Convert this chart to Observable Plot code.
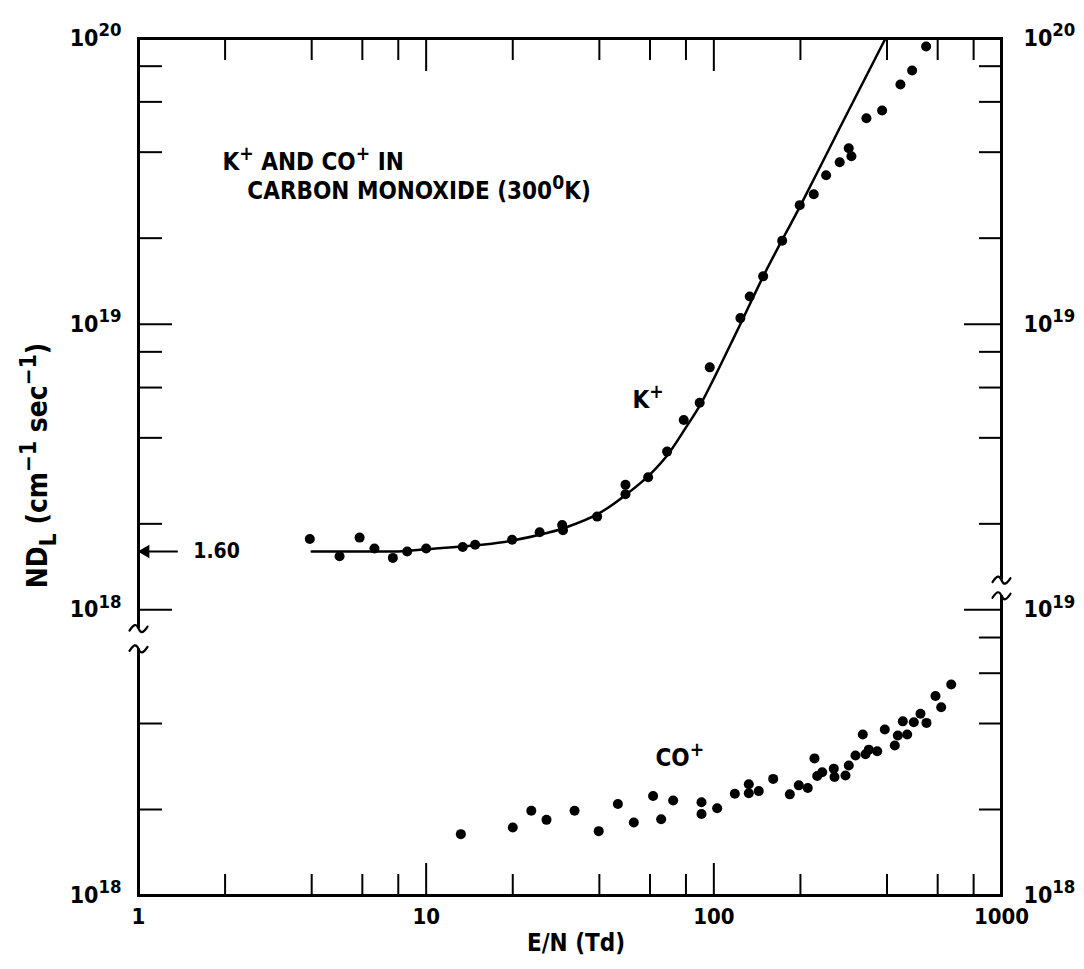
<!DOCTYPE html>
<html>
<head>
<meta charset="utf-8">
<script src="https://cdn.jsdelivr.net/npm/d3@7"></script>
<script src="https://cdn.jsdelivr.net/npm/@observablehq/plot@0.6"></script>
<style>
  body { margin: 0; background: #fff; }
  svg text { font-family: "Liberation Sans Narrow", "DejaVu Sans Condensed", "Roboto Condensed", sans-serif; font-weight: bold; }
</style>
</head>
<body>
<div id="chart"></div>
<script>
// ---- K+ data (upper scale, 10^18 .. 10^20) ----
const kE = [3.94, 5.00, 5.87, 6.61, 7.66, 8.59, 10.0, 13.4, 14.8, 19.9, 24.8, 29.7, 29.9, 39.3, 49.3, 49.3, 59.1, 68.8, 78.6, 89.3, 96.8, 123.7, 133.3, 148.4, 172.8, 198.9, 222.5, 245.7, 273.9, 294.4, 300.8, 339.2, 384.6, 445.3, 489, 547];
const kV = [1.77e18, 1.54e18, 1.79e18, 1.64e18, 1.52e18, 1.60e18, 1.64e18, 1.66e18, 1.69e18, 1.76e18, 1.87e18, 1.98e18, 1.90e18, 2.12e18, 2.74e18, 2.54e18, 2.91e18, 3.58e18, 4.62e18, 5.31e18, 7.06e18, 1.05e19, 1.25e19, 1.47e19, 1.96e19, 2.61e19, 2.85e19, 3.32e19, 3.69e19, 4.13e19, 3.87e19, 5.26e19, 5.60e19, 6.90e19, 7.73e19, 9.38e19];

// ---- K+ fitted curve ----
const curveE = [4, 8, 10, 20, 30, 40, 50, 60, 70, 80, 90, 100, 120, 150, 200, 275, 395];
const curveV = [1.60e18, 1.60e18, 1.63e18, 1.75e18, 1.93e18, 2.18e18, 2.55e18, 2.98e18, 3.55e18, 4.35e18, 5.25e18, 6.45e18, 9.40e18, 1.50e19, 2.60e19, 4.90e19, 1.0e20];

// ---- CO+ data (lower scale, 10^18 .. 10^19) ----
const coE = [13.2, 20.0, 23.2, 26.2, 32.8, 39.8, 46.4, 52.7, 61.5, 65.6, 72.2, 90.6, 90.6, 102.7, 118.3, 132.3, 132.3, 143.3, 160.8, 183.7, 197.4, 212.1, 223.8, 228.7, 238.1, 261.2, 262.7, 286.8, 294.5, 310.8, 329.5, 336.7, 345.7, 369.8, 392.9, 425.7, 436.1, 470.1, 453.9, 495.6, 522.8, 548.5, 589.5, 617.1, 668.6];
const coV = [1.64e18, 1.73e18, 1.98e18, 1.84e18, 1.98e18, 1.68e18, 2.09e18, 1.80e18, 2.23e18, 1.85e18, 2.15e18, 2.12e18, 1.93e18, 2.02e18, 2.27e18, 2.45e18, 2.28e18, 2.32e18, 2.56e18, 2.26e18, 2.43e18, 2.38e18, 3.02e18, 2.62e18, 2.70e18, 2.78e18, 2.60e18, 2.63e18, 2.85e18, 3.09e18, 3.66e18, 3.12e18, 3.24e18, 3.20e18, 3.81e18, 3.35e18, 3.63e18, 3.66e18, 4.07e18, 4.04e18, 4.33e18, 4.02e18, 4.99e18, 4.56e18, 5.48e18];
// the lower panel is drawn one decade below the upper one on a shared log axis
const lowerShift = 10;

// ---- axis ticks and labels ----
const xLabels = [1, 10, 100, 1000];
const xMinor = [2, 4, 6, 8, 20, 40, 60, 80, 200, 400, 600, 800];
const xMajor = [10, 100];
const leftTicks = [1e20, 1e19, 1e18, 1e17];
const leftTickText = ["10^{20}", "10^{19}", "10^{18}", "10^{18}"];
const rightTicks = [1e20, 1e19, 1e18, 1e17];
const rightTickText = ["10^{20}", "10^{19}", "10^{19}", "10^{18}"];
const leftMinor = [8e19, 6e19, 4e19, 2e19, 8e18, 6e18, 4e18, 2e18, 4e17, 2e17];
const leftMajor = [1e19, 1e18];
const rightMinor = [8e19, 6e19, 4e19, 2e19, 8e18, 6e18, 4e18, 2e18, 8e17, 6e17, 4e17, 2e17];
const rightMajor = [1e19, 1e18];
const axisBreaks = [{x: 1, top: 8.6e17, bottom: 7.3e17}, {x: 1000, top: 1.27e18, bottom: 1.12e18}];

// ---- annotations ----
const notes = [
  {x: 1.96, y: 3.68e19, text: "K^{+} AND CO^{+} IN"},
  {x: 2.39, y: 2.91e19, text: "CARBON MONOXIDE (300^{0}K)"}
];
const seriesLabels = [
  {x: 52.2, y: 5.41e18, text: "K^{+}"},
  {x: 62.7, y: 3.02e18 / lowerShift, text: "CO^{+}"}
];
const arrowNote = [{x1: 1.37, x2: 1.0, y: 1.60e18, label: "1.60", lx: 1.55}];
const xTitle = "E/N (Td)";
const yTitle = "ND_{L} (cm^{−1} sec^{−1})";
const yTitleAt = 3.2e18;

const kData = kE.map((e, i) => ({e, v: kV[i]}));
const curveData = curveE.map((e, i) => ({e, v: curveV[i]}));
const coData = coE.map((e, i) => ({e, v: coV[i]}));

// small tilde used for the axis-break marks
const squiggle = {
  draw(c, l) {
    c.moveTo(-l / 2, 2);
    c.bezierCurveTo(-l / 4, -5, -l / 8, -5, 0, 0);
    c.bezierCurveTo(l / 8, 5, l / 4, 5, l / 2, -2);
  }
};

const chart = Plot.plot({
  width: 1084,
  height: 969,
  marginLeft: 138,
  marginRight: 83,
  marginTop: 38,
  marginBottom: 74,
  style: {background: "white", color: "black", overflow: "visible"},
  x: {type: "log", domain: [1, 1000], axis: null, label: null},
  y: {type: "log", domain: [1e17, 1e20], axis: null, label: null},
  marks: [
    Plot.frame({strokeWidth: 3}),
    // tick marks (inward)
    Plot.axisX(xMinor, {anchor: "bottom", tickSize: -21, strokeWidth: 2, fill: "none", label: null}),
    Plot.axisX(xMajor, {anchor: "bottom", tickSize: -32, strokeWidth: 2, fill: "none", label: null}),
    Plot.axisX(xMinor, {anchor: "top", tickSize: -21, strokeWidth: 2, fill: "none", label: null}),
    Plot.axisX(xMajor, {anchor: "top", tickSize: -32, strokeWidth: 2, fill: "none", label: null}),
    Plot.axisY(leftMinor, {anchor: "left", tickSize: -24, strokeWidth: 2, fill: "none", label: null}),
    Plot.axisY(leftMajor, {anchor: "left", tickSize: -34, strokeWidth: 2, fill: "none", label: null}),
    Plot.axisY(rightMinor, {anchor: "right", tickSize: -23, strokeWidth: 2, fill: "none", label: null}),
    Plot.axisY(rightMajor, {anchor: "right", tickSize: -38, strokeWidth: 2, fill: "none", label: null}),
    // tick labels
    Plot.axisX(xLabels, {anchor: "bottom", tickSize: 0, tickPadding: 13, fontSize: 22, tickFormat: d => String(d), label: null}),
    Plot.axisY(leftTicks, {anchor: "left", tickSize: 0, tickPadding: 17, fontSize: 23, tickFormat: d => leftTickText[leftTicks.indexOf(d)], label: null}),
    Plot.axisY(rightTicks, {anchor: "right", tickSize: 0, tickPadding: 22, fontSize: 23, tickFormat: d => rightTickText[rightTicks.indexOf(d)], label: null}),
    // axis breaks
    Plot.ruleX(axisBreaks, {x: "x", y1: "top", y2: "bottom", stroke: "white", strokeWidth: 10}),
    Plot.vector(axisBreaks, {x: "x", y: "top", length: 18, shape: squiggle, anchor: "start", strokeWidth: 2.2, stroke: "black"}),
    Plot.vector(axisBreaks, {x: "x", y: "bottom", length: 18, shape: squiggle, anchor: "start", strokeWidth: 2.2, stroke: "black"}),
    // data
    Plot.line(curveData, {x: "e", y: "v", curve: "monotone-x", strokeWidth: 2.5, stroke: "black"}),
    Plot.dot(kData, {x: "e", y: "v", r: 5, fill: "black", stroke: "none"}),
    Plot.dot(coData, {x: "e", y: d => d.v / lowerShift, r: 5, fill: "black", stroke: "none"}),
    // annotations
    Plot.link(arrowNote, {x1: "x1", x2: "x2", y1: "y", y2: "y", strokeWidth: 2, stroke: "black"}),
    Plot.dot(arrowNote, {x: "x2", y: "y", symbol: "triangle", rotate: -90, r: 5, fill: "black", stroke: "none", dx: 7}),
    Plot.text(arrowNote, {x: "lx", y: "y", text: "label", textAnchor: "start", fontSize: 21}),
    Plot.text(notes, {x: "x", y: "y", text: "text", textAnchor: "start", fontSize: 24}),
    Plot.text(seriesLabels, {x: "x", y: "y", text: "text", textAnchor: "start", fontSize: 24}),
    Plot.text([xTitle], {text: d => d, frameAnchor: "bottom", dy: 55, dx: 6, fontSize: 24}),
    Plot.text([yTitle], {text: d => d, y: () => yTitleAt, frameAnchor: "left", textAnchor: "middle", dx: -100, rotate: -90, fontSize: 28})
  ]
});

document.getElementById("chart").appendChild(chart);

// turn ^{..} and _{..} into real superscript / subscript tspans
function rich(svg) {
  const NS = "http://www.w3.org/2000/svg";
  svg.querySelectorAll("text").forEach(t => {
    if (t.children.length) return;
    const s = t.textContent;
    if (!/[\^_]\{/.test(s)) return;
    const fs = parseFloat(getComputedStyle(t).fontSize) || 20;
    t.textContent = "";
    let cur = 0;
    for (const p of s.split(/(\^\{[^}]*\}|_\{[^}]*\})/)) {
      if (!p) continue;
      let off = 0, txt = p, size = null;
      if (p.startsWith("^{")) { off = -0.42 * fs; txt = p.slice(2, -1); size = 0.8 * fs; }
      else if (p.startsWith("_{")) { off = 0.3 * fs; txt = p.slice(2, -1); size = 0.8 * fs; }
      const ts = document.createElementNS(NS, "tspan");
      ts.setAttribute("dy", (off - cur).toFixed(2));
      if (size) ts.setAttribute("font-size", size.toFixed(1));
      ts.textContent = txt;
      t.appendChild(ts);
      cur = off;
    }
  });
}
rich(chart);
</script>
</body>
</html>
